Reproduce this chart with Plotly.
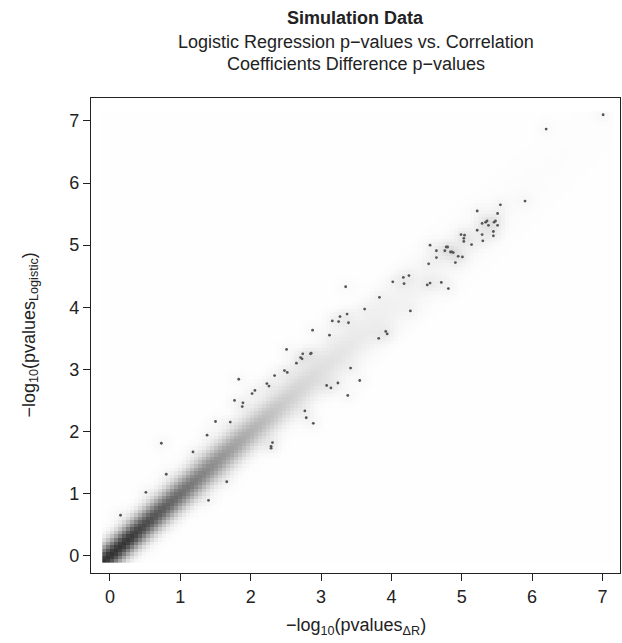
import numpy as np
import plotly.graph_objects as go

# Outlying points drawn individually by the smoothed scatter (x: -log10 p dR, y: -log10 p logistic)
pts_x = [0.15, 0.51, 0.73, 0.80, 1.18, 1.38, 1.40, 1.50, 1.66, 1.71, 1.77, 1.83, 1.88, 1.89,
         2.02, 2.06, 2.23, 2.26, 2.29, 2.29, 2.31, 2.34, 2.48, 2.51, 2.52, 2.65, 2.71, 2.73,
         2.74, 2.77, 2.79, 2.85, 2.86, 2.88, 2.89, 3.08, 3.12, 3.14, 3.16, 3.24, 3.25, 3.27,
         3.35, 3.37, 3.38, 3.39, 3.42, 3.55, 3.62, 3.82, 3.83, 3.92, 3.94, 4.02, 4.17, 4.18,
         4.25, 4.27, 4.51, 4.53, 4.55, 4.55, 4.64, 4.64, 4.71, 4.76, 4.78, 4.80, 4.81, 4.84,
         4.86, 4.88, 4.91, 4.95, 4.99, 5.01, 5.03, 5.03, 5.04, 5.14, 5.22, 5.22, 5.29, 5.29,
         5.30, 5.34, 5.36, 5.38, 5.45, 5.45, 5.46, 5.48, 5.51, 5.51, 5.55, 5.90, 6.20, 7.01]
pts_y = [0.65, 1.02, 1.81, 1.31, 1.67, 1.94, 0.89, 2.16, 1.19, 2.15, 2.50, 2.84, 2.40, 2.46,
         2.61, 2.66, 2.77, 2.73, 1.73, 1.76, 1.82, 2.90, 2.98, 3.32, 2.95, 3.10, 3.19, 3.17,
         3.25, 2.33, 2.22, 3.25, 3.26, 3.63, 2.13, 2.74, 3.55, 2.70, 3.78, 2.78, 3.77, 3.85,
         4.33, 3.89, 2.58, 3.75, 3.02, 2.82, 3.97, 3.50, 4.16, 3.61, 3.57, 4.41, 4.48, 4.38,
         4.51, 3.94, 4.36, 4.70, 4.39, 5.00, 4.91, 4.80, 4.40, 4.91, 4.97, 4.97, 4.30, 4.89,
         4.89, 4.88, 4.72, 4.82, 5.17, 4.81, 5.11, 5.06, 5.16, 5.01, 5.55, 5.24, 5.35, 5.17,
         5.07, 5.37, 5.39, 5.32, 5.22, 5.15, 5.37, 5.39, 5.51, 5.32, 5.65, 5.71, 6.87, 7.10]

# Density ridge along the diagonal, read from the shading (position, darkness 0..1, spread)
band_pos = [0.0, 0.25, 0.5, 1.0, 1.5, 2.0, 2.5, 3.0, 3.5, 4.0, 4.5, 5.0, 5.5, 6.0, 7.0]
band_shade = [0.80, 0.78, 0.70, 0.56, 0.43, 0.30, 0.19, 0.12, 0.08, 0.05, 0.035, 0.022, 0.014, 0.008, 0.004]
band_spread = [0.18, 0.18, 0.19, 0.20, 0.21, 0.22, 0.24, 0.26, 0.28, 0.30, 0.32, 0.34, 0.36, 0.38, 0.40]
band_floor = 0.004
halo_shade = 0.02
halo_spread = 0.09

tick_vals = [0, 1, 2, 3, 4, 5, 6, 7]
tick_text = ["0", "1", "2", "3", "4", "5", "6", "7"]

# density image grid (128 bins like smoothScatter)
nb = 128
edges = np.linspace(-0.11, 7.15, nb + 1)
centers = (edges[:-1] + edges[1:]) / 2
X, Y = np.meshgrid(centers, centers)
T = (X + Y) / 2
D = Y - X
shade = np.interp(T, band_pos, band_shade)
spread = np.interp(T, band_pos, band_spread)
Z = band_floor + shade * np.exp(-0.5 * (D / spread) ** 2)
for px_, py_ in zip(pts_x, pts_y):
    Z += halo_shade * np.exp(-0.5 * ((X - px_) ** 2 + (Y - py_) ** 2) / halo_spread ** 2)
Z = np.clip(Z, 0, 1)

fig = go.Figure()
fig.add_trace(go.Heatmap(
    x=centers, y=centers, z=Z, zmin=0, zmax=1, zsmooth=False,
    colorscale=[[0, "rgb(255,255,255)"], [1, "rgb(0,0,0)"]],
    showscale=False, hoverinfo="skip"))
fig.add_trace(go.Scatter(
    x=pts_x, y=pts_y, mode="markers",
    marker=dict(size=2.8, color="#555555", line=dict(width=0)),
    hoverinfo="skip", showlegend=False))

font_family = "Liberation Sans, Arial, sans-serif"
axis_common = dict(
    showline=True, mirror=True, linecolor="#222", linewidth=1.2,
    ticks="outside", ticklen=7, tickwidth=1.2, tickcolor="#222",
    tickvals=tick_vals, ticktext=tick_text, showgrid=False, zeroline=False,
    tickfont=dict(family=font_family, size=18, color="#222"))

fig.update_layout(
    width=622, height=643,
    margin=dict(l=91, r=2, t=98, b=70),
    plot_bgcolor="white", paper_bgcolor="white",
    showlegend=False,
    xaxis=dict(range=[-0.27, 7.25], **axis_common),
    yaxis=dict(range=[-0.28, 7.37], **axis_common),
    font=dict(family=font_family, color="#222"),
)

H = 475.0
def py(p):
    return (573 - p) / H

fig.add_annotation(text="<b>Simulation Data</b>", x=0.5, y=py(18), xref="paper", yref="paper",
                   showarrow=False, font=dict(size=18, family=font_family, color="#222"),
                   xanchor="center", yanchor="middle")
fig.add_annotation(text="Logistic Regression p\u2212values vs. Correlation", x=0.5, y=py(42),
                   xref="paper", yref="paper", showarrow=False,
                   font=dict(size=18, family=font_family, color="#222"), xanchor="center", yanchor="middle")
fig.add_annotation(text="Coefficients Difference p\u2212values", x=0.5, y=py(64),
                   xref="paper", yref="paper", showarrow=False,
                   font=dict(size=18, family=font_family, color="#222"), xanchor="center", yanchor="middle")
fig.add_annotation(text="\u2212log<sub>10</sub>(pvalues<sub>\u0394R</sub>)", x=0.5, y=py(626),
                   xref="paper", yref="paper", showarrow=False,
                   font=dict(size=18, family=font_family, color="#222"), xanchor="center", yanchor="middle")
fig.add_annotation(text="\u2212log<sub>10</sub>(pvalues<sub>Logistic</sub>)", x=(30 - 91) / 529.0, y=0.5,
                   xref="paper", yref="paper", showarrow=False, textangle=-90,
                   font=dict(size=18, family=font_family, color="#222"), xanchor="center", yanchor="middle")

fig.write_html("out.html", config={"displayModeBar": False},
               post_script="document.body.style.margin='0';document.body.style.overflow='hidden';")
